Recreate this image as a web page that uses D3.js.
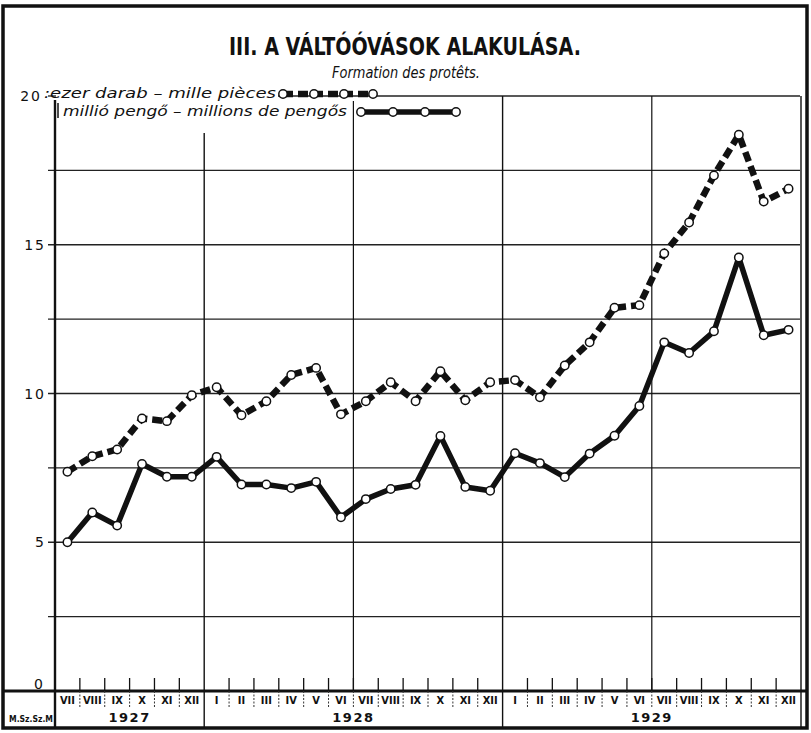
<!DOCTYPE html>
<html><head><meta charset="utf-8">
<script src="https://cdn.jsdelivr.net/npm/d3@7"></script>
<style>
html,body{margin:0;padding:0;background:#fff;}
svg{display:block;}
</style></head>
<body>
<script>
// ---- data ----
const months = ["VII","VIII","IX","X","XI","XII","I","II","III","IV","V","VI","VII","VIII","IX","X","XI","XII","I","II","III","IV","V","VI","VII","VIII","IX","X","XI","XII"];
const yearLabels = ["1927","1928","1929"];
const yearMonthCounts = [6, 12, 12];
const pieces = [7.37,7.89,8.12,9.16,9.07,9.94,10.21,9.27,9.74,10.62,10.86,9.30,9.74,10.38,9.74,10.75,9.77,10.38,10.45,9.87,10.94,11.72,12.88,12.97,14.71,15.75,17.33,18.70,16.45,16.88];
const pengo = [5.00,6.00,5.56,7.63,7.20,7.20,7.87,6.94,6.94,6.82,7.03,5.84,6.45,6.79,6.93,8.57,6.86,6.73,7.99,7.66,7.19,7.98,8.58,9.58,11.72,11.36,12.09,14.57,11.96,12.14];
const yTickValues = [0,5,10,15,20];
const yTickLabels = ["0","5","10","15","20"];
const gridValues = [0,2.5,5,7.5,10,12.5,15,17.5,20];
const titleText = "III. A VÁLTÓÓVÁSOK ALAKULÁSA.";
const subtitleText = "Formation des protêts.";
const legendPieces = ":ezer darab – mille pièces";
const legendPengo = "millió pengő – millions de pengős";
const sourceText = "M.Sz.Sz.M";

// ---- layout ----
const W = 811, H = 733;
const svg = d3.select("body").append("svg").attr("width", W).attr("height", H);
const idx = d3.range(months.length);
const x = d3.scaleBand().domain(idx).range([55, 801]).padding(0);
const xEdge = i => x.range()[0] + i * x.step();
const xc = i => x(i) + x.bandwidth() / 2;
const y = d3.scaleLinear().domain([0, 20]).range([691, 96]);
const FONT = "'Liberation Sans Narrow','DejaVu Sans Condensed','Liberation Sans',sans-serif";
const ink = "#111";

// frame
svg.append("rect").attr("x", 3).attr("y", 6).attr("width", 804).attr("height", 722)
  .attr("fill", "none").attr("stroke", ink).attr("stroke-width", 3.5);

// horizontal grid
gridValues.forEach(v => {
  if (v === 0) return;
  const x0 = v === 20 ? 278 : 48;
  svg.append("line").attr("x1", x0).attr("x2", 800).attr("y1", y(v)).attr("y2", y(v))
    .attr("stroke", "#222").attr("stroke-width", 1.3);
});
svg.append("line").attr("x1", 48).attr("x2", 56).attr("y1", y(20)).attr("y2", y(20))
  .attr("stroke", "#222").attr("stroke-width", 1.3);

// vertical lines
let cum = 0;
const yearStarts = [];
yearMonthCounts.forEach(n => { yearStarts.push(cum); cum += n; });
[6, 18].forEach((b, k) => {
  svg.append("line").attr("x1", xEdge(b)).attr("x2", xEdge(b))
    .attr("y1", k === 0 ? 133 : y(20)).attr("y2", 728)
    .attr("stroke", ink).attr("stroke-width", 1.4);
});
[12, 24].forEach((b, k) => {
  svg.append("line").attr("x1", xEdge(b)).attr("x2", xEdge(b))
    .attr("y1", k === 0 ? 101 : y(20)).attr("y2", y(0))
    .attr("stroke", ink).attr("stroke-width", 1.2);
});
svg.append("line").attr("x1", 55).attr("x2", 55).attr("y1", 100).attr("y2", 728)
  .attr("stroke", ink).attr("stroke-width", 2.4);
svg.append("line").attr("x1", xEdge(30)).attr("x2", xEdge(30)).attr("y1", y(20)).attr("y2", 728)
  .attr("stroke", ink).attr("stroke-width", 1.4);

// zero axis line across
svg.append("line").attr("x1", 3).attr("x2", 807).attr("y1", y(0)).attr("y2", y(0))
  .attr("stroke", ink).attr("stroke-width", 3);

// month ticks above axis and separators below
idx.forEach(i => {
  if (i === 0 || i === 6 || i === 18) return;
  const xx = xEdge(i);
  svg.append("line").attr("x1", xx).attr("x2", xx).attr("y1", y(0) - 13).attr("y2", y(0))
    .attr("stroke", ink).attr("stroke-width", 1.3);
  svg.append("line").attr("x1", xx).attr("x2", xx).attr("y1", y(0)).attr("y2", y(0) + 16)
    .attr("stroke", "#333").attr("stroke-width", 1).attr("stroke-dasharray", "2,1.5");
});

// month labels
svg.append("g").selectAll("text").data(idx).join("text")
  .attr("x", i => xc(i)).attr("y", y(0) + 13)
  .attr("text-anchor", "middle").attr("font-family", FONT).attr("font-weight", "bold")
  .attr("font-size", 11).attr("fill", ink)
  .text(i => months[i]);

// year labels
svg.append("g").selectAll("text").data(yearLabels).join("text")
  .attr("x", (d, k) => (xEdge(yearStarts[k]) + xEdge(yearStarts[k] + yearMonthCounts[k])) / 2)
  .attr("y", 722).attr("text-anchor", "middle").attr("font-family", "'DejaVu Sans',sans-serif")
  .attr("font-weight", "bold").attr("font-size", 13).attr("letter-spacing", 1.5).attr("fill", ink)
  .text(d => d);

// source label
svg.append("text").attr("x", 9).attr("y", 722).attr("font-family", FONT).attr("font-weight", "bold")
  .attr("font-size", 8).attr("textLength", 44).attr("lengthAdjust", "spacingAndGlyphs")
  .attr("fill", ink).text(sourceText);

// y labels
svg.append("g").selectAll("text").data(yTickValues).join("text")
  .attr("x", (d) => d === 20 ? 42 : (d === 0 ? 45 : 46))
  .attr("y", d => y(d) + (d === 0 ? -2 : 5))
  .attr("text-anchor", "end").attr("font-family", "'DejaVu Sans',sans-serif")
  .attr("font-size", 14).attr("letter-spacing", 2).attr("fill", ink)
  .text((d, k) => yTickLabels[k]);

// title
svg.append("text").attr("x", 405).attr("y", 55).attr("text-anchor", "middle")
  .attr("font-family", FONT).attr("font-weight", "bold").attr("font-size", 25)
  .attr("textLength", 352).attr("lengthAdjust", "spacingAndGlyphs").attr("fill", ink)
  .text(titleText);
svg.append("text").attr("x", 406).attr("y", 78).attr("text-anchor", "middle")
  .attr("font-family", FONT).attr("font-style", "italic").attr("font-size", 15)
  .attr("textLength", 148).attr("lengthAdjust", "spacingAndGlyphs").attr("fill", ink)
  .text(subtitleText);

// legend
svg.append("text").attr("x", 44).attr("y", 98).attr("font-family", FONT).attr("font-style", "italic")
  .attr("font-size", 14).attr("textLength", 232).attr("lengthAdjust", "spacingAndGlyphs").attr("fill", ink)
  .text(legendPieces);
svg.append("text").attr("x", 63).attr("y", 116).attr("font-family", FONT).attr("font-style", "italic")
  .attr("font-size", 14).attr("textLength", 284).attr("lengthAdjust", "spacingAndGlyphs").attr("fill", ink)
  .text(legendPengo);
svg.append("line").attr("x1", 58).attr("x2", 58).attr("y1", 103).attr("y2", 118).attr("stroke", ink).attr("stroke-width", 1.5);

const legendDash = [283, 314, 344, 373];
const legendSolid = [361, 393, 425, 456];
svg.append("line").attr("x1", legendDash[0]).attr("x2", legendDash[3]).attr("y1", 94).attr("y2", 94)
  .attr("stroke", ink).attr("stroke-width", 6.5).attr("stroke-dasharray", "10,5");
svg.append("line").attr("x1", legendSolid[0]).attr("x2", legendSolid[3]).attr("y1", 112).attr("y2", 112)
  .attr("stroke", ink).attr("stroke-width", 5.5);
legendDash.forEach(cx => svg.append("circle").attr("cx", cx).attr("cy", 94).attr("r", 4.2)
  .attr("fill", "#fff").attr("stroke", ink).attr("stroke-width", 1.5));
legendSolid.forEach(cx => svg.append("circle").attr("cx", cx).attr("cy", 112).attr("r", 4.2)
  .attr("fill", "#fff").attr("stroke", ink).attr("stroke-width", 1.5));

// series
const line = d3.line().x((d, i) => xc(i)).y(d => y(d));
svg.append("path").datum(pieces).attr("d", line).attr("fill", "none")
  .attr("stroke", ink).attr("stroke-width", 6.5).attr("stroke-dasharray", "10,5")
  .attr("stroke-linejoin", "round");
svg.append("path").datum(pengo).attr("d", line).attr("fill", "none")
  .attr("stroke", ink).attr("stroke-width", 5.5).attr("stroke-linejoin", "round");

[pieces, pengo].forEach(s => {
  svg.append("g").selectAll("circle").data(s).join("circle")
    .attr("cx", (d, i) => xc(i)).attr("cy", d => y(d)).attr("r", 4.2)
    .attr("fill", "#fff").attr("stroke", ink).attr("stroke-width", 1.5);
});
</script>
</body></html>
